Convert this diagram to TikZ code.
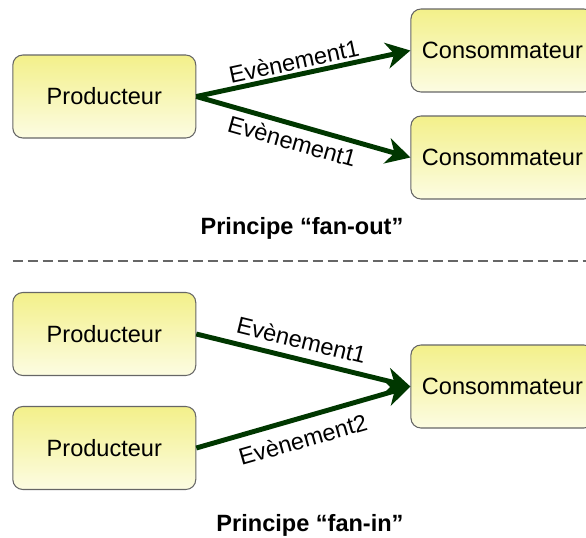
\documentclass[tikz,border=0pt]{standalone}
\usepackage{fontspec}
\setmainfont{Liberation Sans}
\usetikzlibrary{arrows.meta}
\definecolor{boxtop}{RGB}{243,240,138}
\definecolor{boxbottom}{RGB}{252,252,226}
\definecolor{boxline}{RGB}{102,102,102}
\definecolor{eventgreen}{RGB}{0,55,0}
\begin{document}
\begin{tikzpicture}[x=0.02cm, y=-0.02cm,
    every node/.style={font=\fontsize{13.4}{16}\selectfont},
    actor/.style={rectangle, rounded corners=0.2cm, draw=boxline, line width=0.6pt,
                  top color=boxtop, bottom color=boxbottom,
                  minimum width=3.66cm, minimum height=1.66cm, inner sep=0pt},
    event/.style={line width=2.8pt, draw=eventgreen,
                  -{Stealth[length=0.48cm, width=0.52cm, inset=0.15cm]}}]
      \path [use as bounding box, clip] (0,0) rectangle (586,538);

      % fan-out
      \node (P)  [actor] at (104.3,96.5)  {Producteur};
      \node (C1) [actor] at (502.4,50.5)  {Consommateur};
      \node (C2) [actor] at (502.4,157.5) {Consommateur};

      \path (P.east) edge [event] node[sloped, above, pos=0.47, inner sep=1.5pt] {Evènement1} (C1.west);
      \path (P.east) edge [event] node[sloped, below, pos=0.47, inner sep=3.1pt] {Evènement1} (C2.west);

      \node (T1) [anchor=base] at (302,234) {\bfseries Principe “fan-out”};

      % separation
      \coordinate (S1) at (12.7,261);
      \coordinate (S2) at (586,261);
      \draw [line width=1.1pt, draw=boxline, dash pattern=on 0.2cm off 0.1cm] (S1) -- (S2);

      % fan-in
      \node (P1) [actor] at (104.3,334)   {Producteur};
      \node (P2) [actor] at (104.3,448)   {Producteur};
      \node (C)  [actor] at (502.4,386.5) {Consommateur};

      \path (P1.east) edge [event] node[sloped, above, pos=0.47, inner sep=4.6pt] {Evènement1} (C.west);
      \path (P2.east) edge [event] node[sloped, below, pos=0.47, inner sep=5.7pt] {Evènement2} (C.west);

      \node (T2) [anchor=base] at (310,531.5) {\bfseries Principe “fan-in”};
\end{tikzpicture}
\end{document}
